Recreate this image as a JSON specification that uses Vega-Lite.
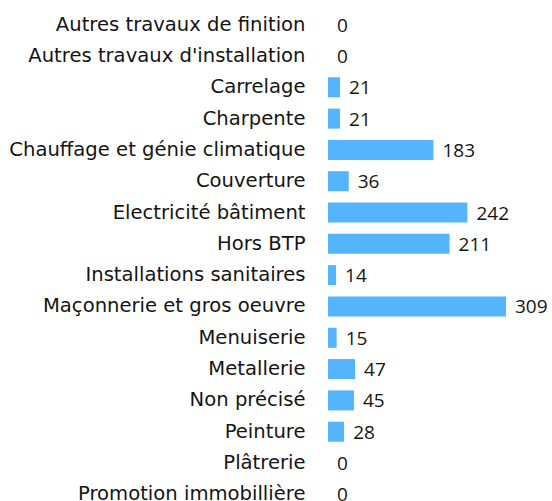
{
  "$schema": "https://vega.github.io/schema/vega-lite/v6.json",
  "autosize": {"type": "none"},
  "padding": {"left": 328, "top": 9, "right": 46, "bottom": 0},
  "width": 178,
  "height": 501,
  "config": {"view": {"stroke": null}, "font": "Open Sans"},
  "data": {"values": [
    {"cat": "Autres travaux de finition", "n": 0},
    {"cat": "Autres travaux d'installation", "n": 0},
    {"cat": "Carrelage", "n": 21},
    {"cat": "Charpente", "n": 21},
    {"cat": "Chauffage et génie climatique", "n": 183},
    {"cat": "Couverture", "n": 36},
    {"cat": "Electricité bâtiment", "n": 242},
    {"cat": "Hors BTP", "n": 211},
    {"cat": "Installations sanitaires", "n": 14},
    {"cat": "Maçonnerie et gros oeuvre", "n": 309},
    {"cat": "Menuiserie", "n": 15},
    {"cat": "Metallerie", "n": 47},
    {"cat": "Non précisé", "n": 45},
    {"cat": "Peinture", "n": 28},
    {"cat": "Plâtrerie", "n": 0},
    {"cat": "Promotion immobillière", "n": 0}
  ]},
  "encoding": {
    "y": {"field": "cat", "type": "nominal", "sort": null, "title": null,
      "scale": {"paddingInner": 0.36, "paddingOuter": 0.18},
      "axis": {"ticks": false, "domain": false, "labelPadding": 23, "labelFontSize": 19.6, "labelColor": "#141414", "labelFont": "DejaVu Sans", "labelLimit": 400}},
    "x": {"field": "n", "type": "quantitative", "title": null, "axis": null,
      "scale": {"domain": [0, 309], "nice": false}}
  },
  "layer": [
    {"mark": {"type": "bar", "color": "#54b5fe", "clip": false}},
    {"mark": {"type": "text", "align": "left", "baseline": "middle", "dx": 9, "dy": 1, "fontSize": 19, "color": "#141414", "font": "Open Sans"},
      "encoding": {"text": {"field": "n", "type": "quantitative"}}}
  ]
}
